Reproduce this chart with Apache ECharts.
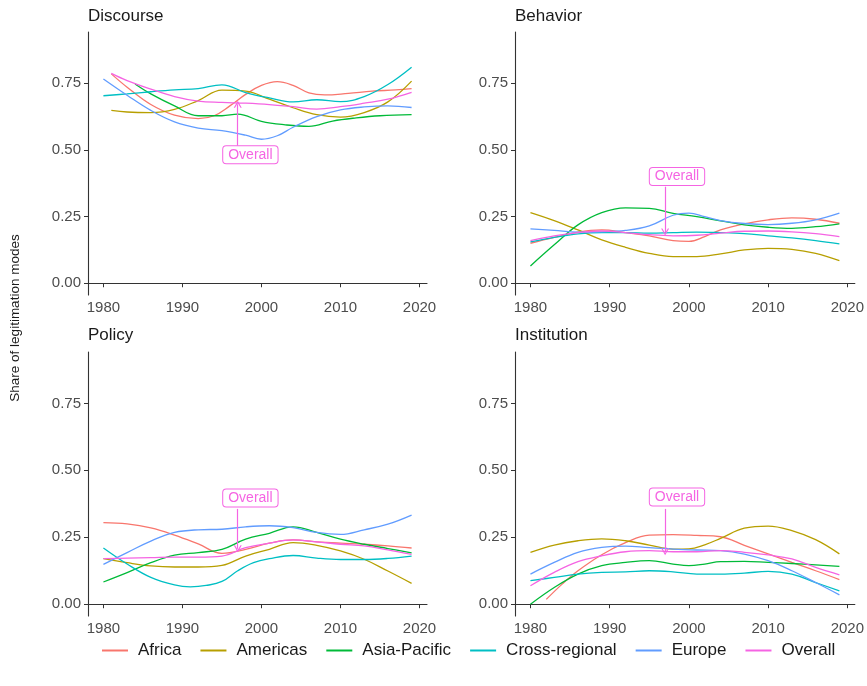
<!DOCTYPE html>
<html>
<head>
<meta charset="utf-8">
<script src="https://cdn.jsdelivr.net/npm/echarts@6/dist/echarts.min.js"></script>
<style>
  html, body { margin: 0; padding: 0; background: #fff; }
  #chart { width: 867px; height: 686px; }
</style>
</head>
<body>
<div id="chart"></div>
<script>
// Smoothed share of each legitimation mode by region, 1980–2019
const regions = ['Africa', 'Americas', 'Asia-Pacific', 'Cross-regional', 'Europe', 'Overall'];
const regionColors = ['#F8766D', '#B79F00', '#00BA38', '#00BFC4', '#619CFF', '#F564E3'];
const panelTitles = ['Discourse', 'Behavior', 'Policy', 'Institution'];
const yTicks = [0, 0.25, 0.5, 0.75];
const xTicks = [1980, 1990, 2000, 2010, 2020];

// Discourse
const discourseAfrica = [[1981,.785],[1983,.735],[1986,.67],[1989,.63],[1992,.617],[1994,.628],[1996,.665],[1998,.708],[2000,.742],[2002,.756],[2004,.742],[2006,.714],[2008,.706],[2011,.712],[2014,.72],[2017,.725],[2019,.73]];
const discourseAmericas = [[1981,.648],[1983,.642],[1986,.64],[1989,.652],[1992,.685],[1995,.724],[1998,.72],[2001,.69],[2004,.658],[2007,.632],[2010,.623],[2013,.64],[2016,.68],[2019,.758]];
const discourseAsiaPacific = [[1984,.747],[1986,.71],[1989,.665],[1992,.628],[1995,.628],[1997,.634],[2000,.607],[2003,.594],[2006,.588],[2009,.608],[2012,.62],[2015,.628],[2019,.632]];
const discourseCrossRegional = [[1980,.703],[1983,.71],[1986,.718],[1989,.725],[1992,.73],[1995,.744],[1998,.715],[2001,.695],[2004,.68],[2007,.688],[2010,.681],[2013,.70],[2016,.745],[2019,.81]];
const discourseEurope = [[1980,.766],[1983,.705],[1986,.648],[1989,.605],[1992,.582],[1995,.572],[1998,.555],[2000,.54],[2002,.553],[2004,.585],[2007,.625],[2010,.65],[2013,.661],[2016,.665],[2019,.659]];
const discourseOverall = [[1981,.787],[1983,.76],[1986,.728],[1989,.70],[1992,.683],[1995,.678],[1998,.675],[2001,.67],[2004,.662],[2007,.653],[2010,.662],[2013,.675],[2016,.69],[2019,.716]];

// Behavior
const behaviorAfrica = [[1980,.15],[1983,.172],[1986,.192],[1989,.2],[1992,.19],[1995,.178],[1998,.16],[2000,.157],[2002,.175],[2004,.2],[2007,.223],[2010,.238],[2013,.245],[2016,.24],[2019,.225]];
const behaviorAmericas = [[1980,.265],[1983,.235],[1986,.20],[1989,.163],[1992,.135],[1995,.112],[1998,.10],[2001,.10],[2004,.11],[2007,.125],[2010,.131],[2013,.127],[2016,.112],[2019,.085]];
const behaviorAsiaPacific = [[1980,.065],[1983,.144],[1986,.219],[1989,.265],[1992,.283],[1995,.281],[1998,.262],[2001,.25],[2004,.234],[2007,.219],[2010,.21],[2013,.206],[2016,.212],[2019,.223]];
const behaviorCrossRegional = [[1980,.155],[1983,.172],[1986,.185],[1989,.19],[1992,.19],[1995,.188],[1998,.19],[2001,.192],[2004,.19],[2007,.186],[2010,.178],[2013,.17],[2016,.16],[2019,.148]];
const behaviorEurope = [[1980,.204],[1983,.198],[1986,.192],[1989,.193],[1992,.198],[1995,.215],[1998,.255],[2000,.263],[2002,.25],[2004,.235],[2007,.224],[2010,.22],[2013,.225],[2016,.238],[2019,.263]];
const behaviorOverall = [[1980,.16],[1983,.178],[1986,.19],[1989,.196],[1992,.19],[1995,.182],[1998,.178],[2001,.18],[2004,.188],[2007,.195],[2010,.196],[2013,.193],[2016,.186],[2019,.175]];

// Policy
const policyAfrica = [[1980,.305],[1983,.30],[1986,.285],[1989,.258],[1992,.225],[1995,.19],[1998,.205],[2001,.228],[2004,.24],[2007,.233],[2010,.228],[2013,.224],[2016,.218],[2019,.21]];
const policyAmericas = [[1980,.17],[1983,.155],[1986,.143],[1989,.139],[1992,.139],[1995,.145],[1998,.18],[2001,.205],[2004,.23],[2007,.22],[2010,.199],[2013,.168],[2016,.124],[2019,.078]];
const policyAsiaPacific = [[1980,.083],[1983,.118],[1986,.155],[1989,.183],[1992,.193],[1995,.205],[1998,.243],[2001,.265],[2004,.289],[2007,.268],[2010,.243],[2013,.224],[2016,.208],[2019,.192]];
const policyCrossRegional = [[1980,.21],[1983,.15],[1986,.10],[1989,.072],[1991,.065],[1993,.07],[1995,.085],[1997,.125],[1999,.155],[2001,.17],[2004,.182],[2007,.172],[2010,.167],[2013,.167],[2016,.171],[2019,.18]];
const policyEurope = [[1980,.149],[1983,.193],[1986,.236],[1989,.268],[1992,.278],[1995,.28],[1998,.289],[2001,.293],[2004,.286],[2007,.268],[2010,.261],[2013,.278],[2016,.299],[2019,.333]];
const policyOverall = [[1980,.17],[1983,.172],[1986,.174],[1989,.176],[1992,.176],[1995,.18],[1998,.211],[2001,.228],[2004,.24],[2007,.233],[2010,.224],[2013,.218],[2016,.203],[2019,.186]];

// Institution
const institutionAfrica = [[1982,.018],[1984,.075],[1986,.125],[1989,.185],[1992,.23],[1995,.258],[1998,.26],[2001,.257],[2004,.252],[2007,.22],[2010,.188],[2013,.156],[2016,.125],[2019,.092]];
const institutionAmericas = [[1980,.194],[1983,.221],[1986,.237],[1989,.244],[1992,.237],[1995,.221],[1998,.206],[2000,.207],[2002,.222],[2004,.246],[2007,.284],[2010,.292],[2013,.275],[2016,.241],[2019,.188]];
const institutionAsiaPacific = [[1980,0],[1983,.0625],[1986,.1125],[1989,.144],[1992,.156],[1995,.1625],[1998,.15],[2000,.144],[2002,.15],[2004,.159],[2007,.16],[2010,.156],[2013,.152],[2016,.147],[2019,.141]];
const institutionCrossRegional = [[1980,.088],[1983,.10],[1986,.1125],[1989,.119],[1992,.121],[1995,.125],[1998,.121],[2001,.1125],[2004,.1125],[2007,.116],[2010,.123],[2013,.1125],[2016,.081],[2019,.05]];
const institutionEurope = [[1980,.1125],[1983,.156],[1986,.194],[1989,.212],[1992,.217],[1995,.211],[1998,.206],[2001,.2025],[2004,.20],[2007,.1875],[2010,.1625],[2013,.125],[2016,.081],[2019,.035]];
const institutionOverall = [[1980,.069],[1983,.119],[1986,.159],[1989,.181],[1992,.196],[1995,.20],[1998,.196],[2001,.196],[2004,.20],[2007,.194],[2010,.184],[2013,.169],[2016,.1375],[2019,.11]];

// Callout pointing at the Overall curve in each panel: [labelYear, labelValue, arrowYear, arrowFrom, arrowTo]
const overallCallouts = [
  [1998.6, 0.482, 1997, 0.516, 0.671],
  [1998.5, 0.400, 1997, 0.362, 0.192],
  [1998.6, 0.397, 1997, 0.356, 0.207],
  [1998.5, 0.400, 1997, 0.356, 0.196]
];

const panelData = [
  [discourseAfrica, discourseAmericas, discourseAsiaPacific, discourseCrossRegional, discourseEurope, discourseOverall],
  [behaviorAfrica, behaviorAmericas, behaviorAsiaPacific, behaviorCrossRegional, behaviorEurope, behaviorOverall],
  [policyAfrica, policyAmericas, policyAsiaPacific, policyCrossRegional, policyEurope, policyOverall],
  [institutionAfrica, institutionAmericas, institutionAsiaPacific, institutionCrossRegional, institutionEurope, institutionOverall]
];

const FONT = '"Liberation Sans", Arial, Helvetica, sans-serif';
const AXIS_COLOR = '#333333';
const TEXT_COLOR = '#4d4d4d';
const PINK = '#F564E3';

const grids = [
  { left: 88, top: 32, width: 339, height: 263 },
  { left: 515, top: 32, width: 340, height: 263 },
  { left: 88, top: 352, width: 339, height: 264 },
  { left: 515, top: 352, width: 340, height: 264 }
];

const titles = [
  { left: 88, top: 8 }, { left: 515, top: 8 },
  { left: 88, top: 327 }, { left: 515, top: 327 }
].map((pos, i) => ({
  text: panelTitles[i], left: pos.left, top: pos.top, padding: 0,
  textStyle: { fontFamily: FONT, fontSize: 17, fontWeight: 'normal', color: '#1a1a1a' }
}));

const xAxes = grids.map((g, i) => ({
  type: 'value', gridIndex: i, min: 1978.05, max: 2020.95,
  splitLine: { show: false },
  axisLine: { show: true, lineStyle: { color: AXIS_COLOR, width: 1.1 } },
  axisTick: { show: true, length: 4, customValues: xTicks, lineStyle: { color: AXIS_COLOR } },
  axisLabel: { customValues: xTicks, color: TEXT_COLOR, fontSize: 15, fontFamily: FONT, margin: 5,
    formatter: v => String(Math.round(v)) }
}));

const yAxes = grids.map((g, i) => ({
  type: 'value', gridIndex: i, min: -0.044, max: 0.942,
  splitLine: { show: false },
  axisLine: { show: true, onZero: false, lineStyle: { color: AXIS_COLOR, width: 1.1 } },
  axisTick: { show: true, length: 4, customValues: yTicks, lineStyle: { color: AXIS_COLOR } },
  axisLabel: { customValues: yTicks, color: TEXT_COLOR, fontSize: 15, fontFamily: FONT, margin: 7,
    formatter: v => v.toFixed(2) }
}));

// open chevron arrowhead
const arrowHead = 'path://M0,10 L5,0 L10,10 L8.4,10 L5,3.2 L1.6,10 Z';

const series = [];
panelData.forEach((lines, p) => {
  lines.forEach((data, r) => {
    const s = {
      name: regions[r], type: 'line', xAxisIndex: p, yAxisIndex: p,
      data: data, smooth: 0.4, showSymbol: false, symbol: 'none',
      lineStyle: { color: regionColors[r], width: 1.3 },
      itemStyle: { color: regionColors[r] },
      emphasis: { disabled: true }, z: 2
    };
    if (regions[r] === 'Overall') {
      const c = overallCallouts[p];
      s.markLine = {
        silent: true, symbol: ['none', arrowHead], symbolSize: [8, 7],
        lineStyle: { color: PINK, width: 1.2, type: 'solid' },
        label: { show: false },
        data: [[{ coord: [c[2], c[3]] }, { coord: [c[2], c[4]] }]]
      };
      s.markPoint = {
        silent: true, symbol: 'rect', symbolSize: 0,
        label: {
          show: true, position: 'inside', formatter: 'Overall',
          color: PINK, fontSize: 14, fontFamily: FONT,
          backgroundColor: '#ffffff', borderColor: PINK, borderWidth: 1,
          borderRadius: 3, padding: [2, 5, 1, 5]
        },
        data: [{ coord: [c[0], c[1]] }]
      };
    }
    series.push(s);
  });
});

const chart = echarts.init(document.getElementById('chart'), null, { renderer: 'canvas' });
chart.setOption({
  animation: false,
  backgroundColor: '#ffffff',
  title: titles,
  grid: grids,
  xAxis: xAxes,
  yAxis: yAxes,
  legend: {
    top: 637, left: 97, itemWidth: 26, itemHeight: 2, itemGap: 19,
    icon: 'rect',
    data: regions.map((name, i) => ({ name, itemStyle: { color: regionColors[i] } })),
    textStyle: { fontFamily: FONT, fontSize: 17, color: '#1a1a1a', padding: [0, 0, 0, 5] }
  },
  graphic: [{
    type: 'text', x: 15, y: 318, rotation: Math.PI / 2,
    style: { text: 'Share of legitimation modes', fontFamily: FONT, fontSize: 13.5, fill: '#1a1a1a',
      align: 'center', verticalAlign: 'middle' }
  }],
  series: series
});
</script>
</body>
</html>
